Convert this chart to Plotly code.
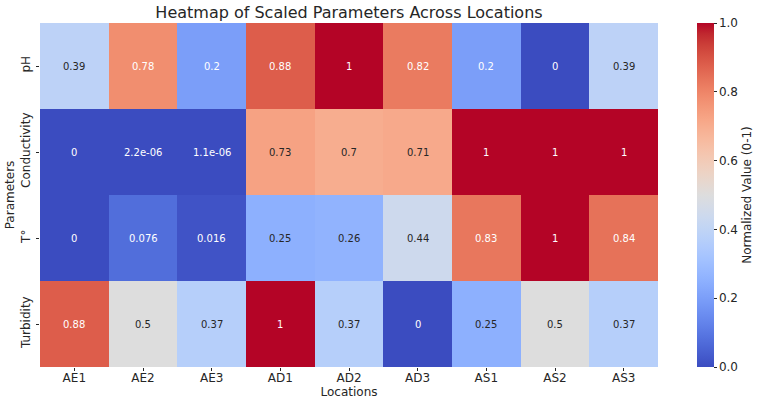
import plotly.graph_objects as go

locations = ["AE1", "AE2", "AE3", "AD1", "AD2", "AD3", "AS1", "AS2", "AS3"]
parameters = ["pH", "Conductivity", "T°", "Turbidity"]

ph = [0.39, 0.78, 0.2, 0.88, 1, 0.82, 0.2, 0, 0.39]
conductivity = [0, 2.2e-06, 1.1e-06, 0.73, 0.7, 0.71, 1, 1, 1]
temperature = [0, 0.076, 0.016, 0.25, 0.26, 0.44, 0.83, 1, 0.84]
turbidity = [0.88, 0.5, 0.37, 1, 0.37, 0, 0.25, 0.5, 0.37]

z = [ph, conductivity, temperature, turbidity]

# matplotlib "coolwarm" colormap segment data
_pos = [i / 32 for i in range(33)]
_r = [0.2298057, 0.26623388, 0.30386891, 0.342804478, 0.38301334, 0.424369608, 0.46666708, 0.509635204,
      0.552953156, 0.596262162, 0.639176211, 0.681291281, 0.722193294, 0.761464949, 0.798691636, 0.833466556,
      0.865395197, 0.897787179, 0.924127593, 0.944468518, 0.958852946, 0.96732803, 0.969954137, 0.966811177,
      0.958003065, 0.943660866, 0.923944917, 0.89904617, 0.869186849, 0.834620542, 0.795631745, 0.752534934,
      0.705673158]
_g = [0.298717966, 0.353094838, 0.406535296, 0.458757618, 0.50941904, 0.558148092, 0.604562568, 0.648280772,
      0.688929332, 0.726149107, 0.759599947, 0.788964712, 0.813952739, 0.834302879, 0.849786142, 0.860207984,
      0.86541021, 0.848937047, 0.827384882, 0.800927443, 0.769767752, 0.734132809, 0.694266682, 0.650421156,
      0.602842431, 0.551750968, 0.49730856, 0.439559467, 0.378313092, 0.312874446, 0.24128379, 0.157246067,
      0.01555616]
_b = [0.753683153, 0.801466763, 0.84495867, 0.883725899, 0.917387822, 0.945619588, 0.968154911, 0.98478814,
      0.995375608, 0.999836203, 0.998151185, 0.990363227, 0.976574709, 0.956945269, 0.931688648, 0.901068838,
      0.865395561, 0.820880546, 0.774508472, 0.726736146, 0.678007945, 0.628751763, 0.579375448, 0.530263762,
      0.481775914, 0.434243684, 0.387970225, 0.343229596, 0.300267182, 0.259301199, 0.220525627, 0.184115123,
      0.150232812]

colorscale = [[p, "rgb(%d,%d,%d)" % (round(r * 255), round(g * 255), round(b * 255))]
              for p, r, g, b in zip(_pos, _r, _g, _b)]


def cmap(v):
    v = min(max(v, 0.0), 1.0)
    i = min(int(v * 32), 31)
    t = (v - _pos[i]) * 32
    return tuple(c[i] + (c[i + 1] - c[i]) * t for c in (_r, _g, _b))


def lum(rgb):
    lin = [c / 12.92 if c <= 0.03928 else ((c + 0.055) / 1.055) ** 2.4 for c in rgb]
    return 0.2126 * lin[0] + 0.7152 * lin[1] + 0.0722 * lin[2]


fig = go.Figure()
fig.add_trace(go.Heatmap(
    z=z, x=locations, y=parameters,
    colorscale=colorscale, zmin=0, zmax=1,
    xgap=0, ygap=0,
    hoverongaps=False,
    colorbar=dict(
        title=dict(text="Normalized Value (0-1)", side="right",
                   font=dict(size=12, color="#262626")),
        thickness=17, len=1.0, lenmode="fraction",
        x=(697 - 40) / 618, xanchor="left", xpad=0, ypad=0,
        y=0.5, yanchor="middle",
        tickvals=[0, 0.2, 0.4, 0.6, 0.8, 1.0],
        ticktext=["0.0", "0.2", "0.4", "0.6", "0.8", "1.0"],
        ticks="outside", ticklen=3, tickcolor="#262626",
        tickfont=dict(size=12, color="#262626"),
        outlinewidth=0,
    ),
))

annotations = []
for yi, param in enumerate(parameters):
    for xi, loc in enumerate(locations):
        v = z[yi][xi]
        col = "#262626" if lum(cmap(v)) > 0.408 else "white"
        annotations.append(dict(
            x=loc, y=param, xref="x", yref="y", text=format(v, ".2g"),
            showarrow=False, font=dict(size=10, color=col),
        ))

fig.update_layout(
    width=764, height=401,
    margin=dict(l=40, r=106, t=23, b=34, autoexpand=False),
    paper_bgcolor="white", plot_bgcolor="white",
    font=dict(family="DejaVu Sans", color="#262626"),
    title=dict(text="Heatmap of Scaled Parameters Across Locations",
               x=(40 + 618 / 2) / 764, xanchor="center", y=1 - 12 / 401, yanchor="middle",
               font=dict(size=16, color="#262626")),
    annotations=annotations,
    xaxis=dict(title=dict(text="Locations", font=dict(size=12), standoff=0),
               automargin=False, ticklabelstandoff=-3,
               ticks="outside", ticklen=3, tickcolor="#262626",
               tickfont=dict(size=12), showgrid=False, zeroline=False, showline=False),
    yaxis=dict(title=dict(text="Parameters", font=dict(size=12), standoff=2),
               automargin=False, ticklabelstandoff=1,
               autorange="reversed", tickangle=-90,
               ticks="outside", ticklen=3, tickcolor="#262626",
               tickfont=dict(size=12), showgrid=False, zeroline=False, showline=False),
)

fig.write_html("out.html")
